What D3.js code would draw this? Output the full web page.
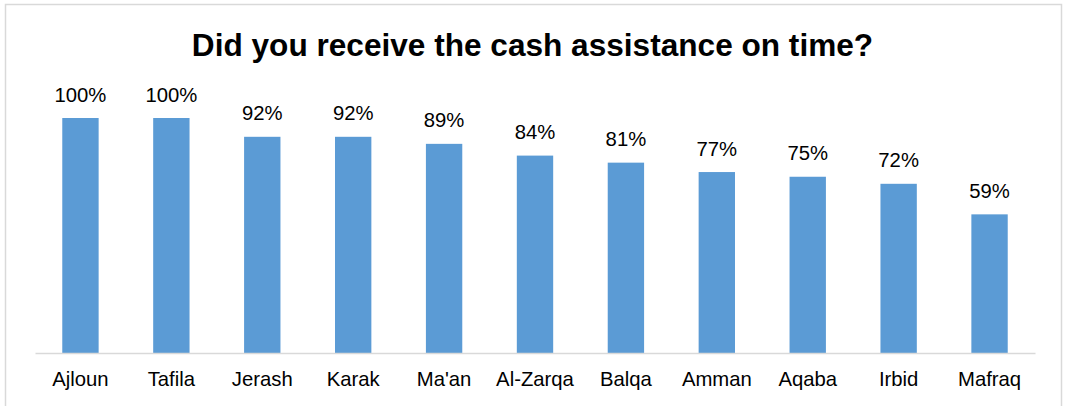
<!DOCTYPE html>
<html>
<head>
<meta charset="utf-8">
<script src="https://d3js.org/d3.v7.min.js"></script>
<style>
  html, body { margin: 0; padding: 0; background: #fff; }
  svg { display: block; }
</style>
</head>
<body>
<svg id="chart" width="1066" height="406"></svg>
<script>
const categories = ["Ajloun", "Tafila", "Jerash", "Karak", "Ma'an", "Al-Zarqa", "Balqa", "Amman", "Aqaba", "Irbid", "Mafraq"];
const values = [1.00, 1.00, 0.92, 0.92, 0.89, 0.84, 0.81, 0.77, 0.75, 0.72, 0.59];
const valueLabels = ["100%", "100%", "92%", "92%", "89%", "84%", "81%", "77%", "75%", "72%", "59%"];
const title = "Did you receive the cash assistance on time?";

const svg = d3.select("#chart");
const font = "Liberation Sans, Arial, sans-serif";

// chart border
svg.append("rect")
  .attr("x", 5.5).attr("y", 4.5)
  .attr("width", 1056).attr("height", 420)
  .attr("fill", "#fff")
  .attr("stroke", "#D9D9D9")
  .attr("stroke-width", 1.5);

svg.append("text")
  .attr("x", 532.5).attr("y", 55.5)
  .attr("text-anchor", "middle")
  .attr("font-family", font)
  .attr("font-weight", "bold")
  .attr("font-size", 31.6)
  .attr("fill", "#000")
  .text(title);

const x = d3.scaleBand().domain(categories).range([35, 1035]).paddingInner(0.6).paddingOuter(0.3);
const y = d3.scaleLinear().domain([0, 1]).range([353, 118]);

svg.selectAll("rect.bar")
  .data(values)
  .enter().append("rect")
  .attr("class", "bar")
  .attr("x", (d, i) => x(categories[i]))
  .attr("y", d => y(d))
  .attr("width", x.bandwidth())
  .attr("height", d => y(0) - y(d))
  .attr("fill", "#5B9BD5");

// baseline axis
const axis = svg.append("g").attr("transform", `translate(0,${y(0)})`)
  .call(d3.axisBottom(x).tickSize(0).tickPadding(19));
axis.select(".domain").attr("stroke", "#D9D9D9").attr("stroke-width", 1.5);
axis.selectAll("text")
  .attr("font-family", font)
  .attr("font-size", 20.3)
  .attr("fill", "#000");

svg.selectAll("text.val")
  .data(values)
  .enter().append("text")
  .attr("class", "val")
  .attr("x", (d, i) => x(categories[i]) + x.bandwidth() / 2)
  .attr("y", d => y(d) - 16.5)
  .attr("text-anchor", "middle")
  .attr("font-family", font)
  .attr("font-size", 20.3)
  .attr("fill", "#000")
  .text((d, i) => valueLabels[i]);
</script>
</body>
</html>
